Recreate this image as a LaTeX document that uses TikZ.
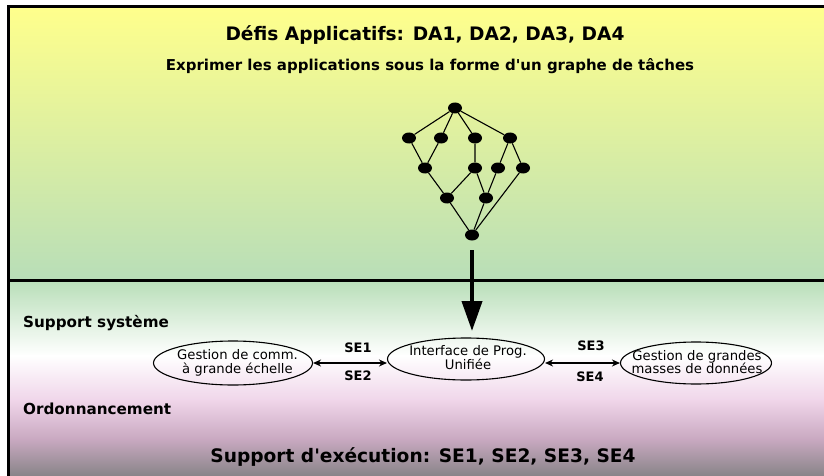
\documentclass[tikz,border=0pt]{standalone}
\usepackage{fontspec}
\setmainfont{DejaVu Sans}
\usetikzlibrary{shapes.geometric,arrows.meta}
\definecolor{topyel}{RGB}{255,255,140}
\definecolor{midgreen}{RGB}{184,222,184}
\definecolor{pinkc}{RGB}{240,214,234}
\definecolor{mauve}{RGB}{200,168,192}
\definecolor{greyc}{RGB}{136,132,136}
\newcommand\elltext[2][0pt]{\makebox[0pt]{\hspace*{#1}\smash{\raisebox{-0.5ex}{\begin{tabular}[c]{@{}c@{}}#2\end{tabular}}}}}
\tikzset{
  gnode/.style={ellipse,fill=black,minimum width=14pt,minimum height=11pt,inner sep=0pt},
  gedge/.style={line width=1.1pt},
  seell/.style={ellipse,draw,line width=1.1pt,inner sep=0pt,font=\fontsize{13.2}{12.5}\selectfont},
  bigtitle/.style={font=\bfseries\fontsize{18.6}{20}\selectfont},
  bottitle/.style={font=\bfseries\fontsize{18.6}{20}\selectfont},
  subtitle/.style={font=\bfseries\fontsize{15}{17}\selectfont},
  sublabel/.style={font=\bfseries\fontsize{15.2}{17}\selectfont},
  selab/.style={font=\bfseries\fontsize{13}{15}\selectfont},
  dbl/.style={{Stealth[length=8pt,width=7pt]}-{Stealth[length=8pt,width=7pt]},line width=1.1pt},
  frame/.style={line width=3pt}
}
\begin{document}
\begin{tikzpicture}[x=1pt,y=-1pt]
\useasboundingbox (0,0) rectangle (824,476);
% backgrounds
\shade[top color=topyel,bottom color=midgreen] (8,7) rectangle (824,280);
\shade[top color=midgreen,bottom color=white] (8,280) rectangle (824,356);
\shade[top color=white,bottom color=pinkc] (8,355.5) rectangle (824,400);
\shade[top color=pinkc,bottom color=mauve] (8,399.5) rectangle (824,440);
\shade[top color=mauve,bottom color=greyc] (8,439.5) rectangle (824,476);
% frame
\draw[frame] (8,478) -- (8,7) -- (826,7);
\draw[frame] (8,280) -- (826,280);
% texts
\node[bigtitle] (t1) at (425,35) {Défis Applicatifs: DA1, DA2, DA3, DA4};
\node[subtitle] (t2) at (430,66) {Exprimer les applications sous la forme d\textquotesingle un graphe de tâches};
\node[sublabel,anchor=west,inner sep=0pt] (t3) at (23,323) {Support système};
\node[sublabel,anchor=west,inner sep=0pt] (t4) at (23,409) {Ordonnancement};
\node[bottitle] (t5) at (423,457) {Support d\textquotesingle exécution: SE1, SE2, SE3, SE4};
% graph
\node[gnode] (a) at (455,108) {};
\node[gnode] (b1) at (409,138) {};
\node[gnode] (b2) at (441,138) {};
\node[gnode] (b3) at (475,138) {};
\node[gnode] (b4) at (510,138) {};
\node[gnode] (c1) at (425,168) {};
\node[gnode] (c2) at (475,168) {};
\node[gnode] (c3) at (498,168) {};
\node[gnode] (c4) at (523,168) {};
\node[gnode] (d1) at (447,198) {};
\node[gnode] (d2) at (486,198) {};
\node[gnode] (e) at (472,235) {};
\draw[gedge] (a) -- (b1) (a) -- (b2) (a) -- (b3) (a) -- (b4)
  (b1) -- (c1) (b2) -- (c1) (b3) -- (c2) (b4) -- (c3) (b4) -- (c4)
  (c1) -- (d1) (c2) -- (d1) (c2) -- (d2) (c3) -- (d2)
  (d1) -- (e) (d2) -- (e) (c4) -- (e);
% ellipses
\node[seell,minimum width=159pt,minimum height=44pt] (g1) at (233,363) {\elltext[9pt]{Gestion de comm.\\à grande échelle}};
\node[seell,minimum width=157pt,minimum height=42pt] (g2) at (466,359) {\elltext[4pt]{Interface de Prog.\\Unifiée}};
\node[seell,minimum width=151pt,minimum height=42pt] (g3) at (696,363) {\elltext[2pt]{Gestion de grandes\\[-1.5pt]masses de données}};
\coordinate (arrs) at (472,250);
\coordinate (arre) at (472,331);
\draw[line width=4pt,-{Triangle[length=30pt,width=20pt]}] (arrs) -- (arre);
\draw[dbl] (g1.east) -- (g2.west |- g1.east);
\draw[dbl] (g2.east |- g3.west) -- (g3.west);
\node[selab] (se1) at (358,348) {SE1};
\node[selab] (se2) at (358,376) {SE2};
\node[selab] (se3) at (591,346) {SE3};
\node[selab] (se4) at (590,377) {SE4};
\end{tikzpicture}
\end{document}
